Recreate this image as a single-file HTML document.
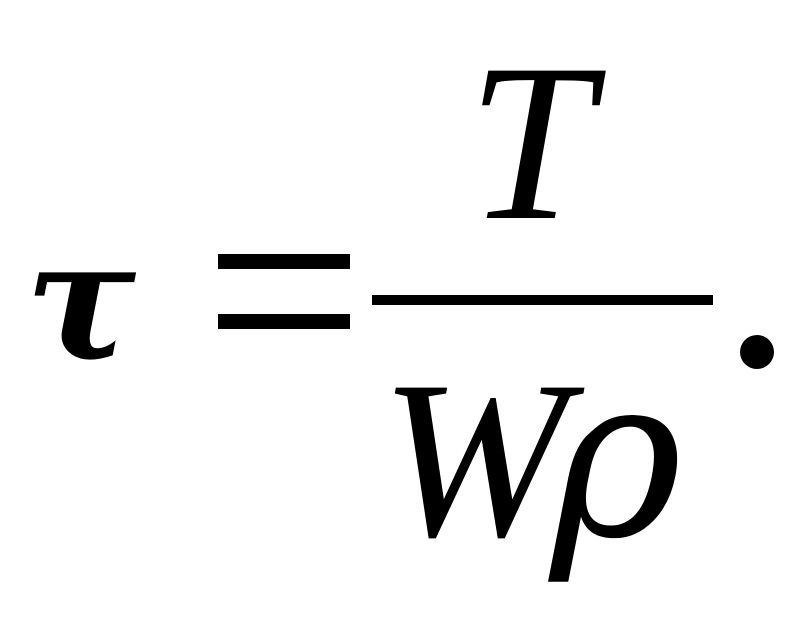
<!DOCTYPE html>
<html><head><meta charset="utf-8"><style>html,body{margin:0;padding:0;background:#fff;}svg{display:block}</style></head>
<body>
<svg width="807" height="620" viewBox="0 0 807 620" xmlns="http://www.w3.org/2000/svg">
<rect width="807" height="620" fill="#fff"/>
<text x="25" y="358" font-family="DejaVu Serif, serif" font-style="italic" font-weight="bold" font-size="165">τ</text>
<rect x="218" y="254" width="132" height="15" fill="#000"/>
<rect x="218" y="314" width="132" height="15" fill="#000"/>
<rect x="372" y="295" width="341" height="10" fill="#000"/>
<text x="530" y="218" text-anchor="middle" font-family="Liberation Serif, serif" font-style="italic" font-size="225">T</text>
<text x="380" y="535" font-family="Liberation Serif, serif" font-style="italic" font-size="225">W</text>
<text x="550" y="535" font-family="DejaVu Serif, serif" font-style="italic" font-size="225">ρ</text>
<circle cx="757" cy="352" r="17" fill="#000"/>
</svg>
</body></html>
